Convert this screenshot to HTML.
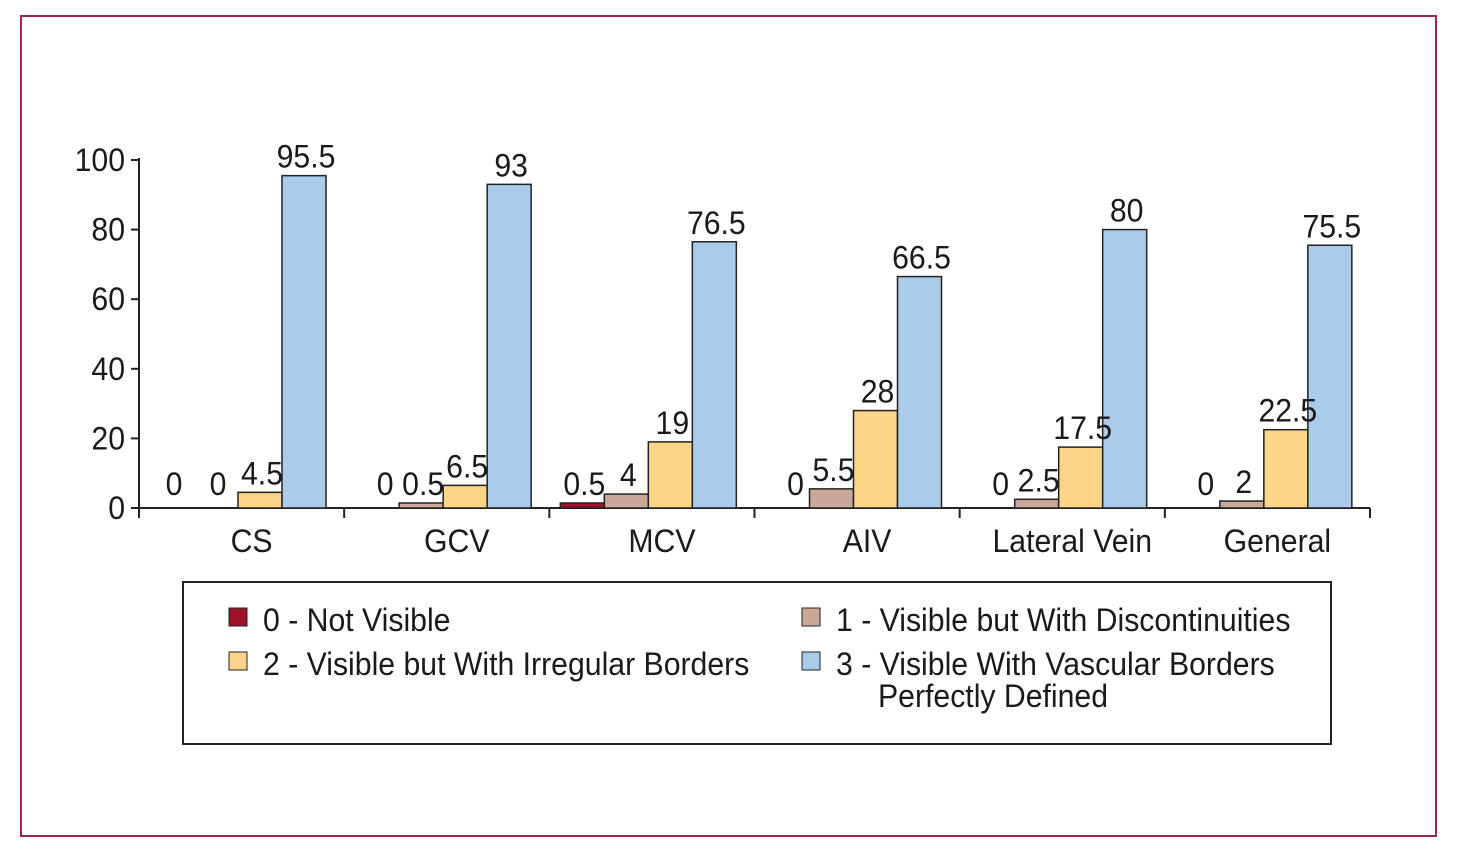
<!DOCTYPE html>
<html><head><meta charset="utf-8">
<style>
html,body{margin:0;padding:0;background:#fff;}
svg{display:block;}
text{font-family:"Liberation Sans Narrow","Liberation Sans",sans-serif;fill:#1a1a1a;}
</style></head>
<body>
<svg id="chart" width="1466" height="862" viewBox="0 0 1466 862">
<rect x="21" y="16" width="1415" height="820" fill="#fff" stroke="#a0254e" stroke-width="2"/>
<g id="plot"></g>
<g id="labels"></g>
<g id="legend">
<rect x="183" y="582" width="1148" height="162" fill="#fff" stroke="#222" stroke-width="2"/>
<g><rect x="229" y="608" width="18" height="18" fill="#a0102a" stroke="#222"/><text transform="translate(263,631) scale(0.975,1.05)" font-size="31">0 - Not Visible</text></g>
<g><rect x="802" y="608" width="18" height="18" fill="#c9a898" stroke="#222"/><text transform="translate(836,631) scale(0.975,1.05)" font-size="31">1 - Visible but With Discontinuities</text></g>
<g><rect x="229" y="652" width="18" height="18" fill="#fdd58a" stroke="#222"/><text transform="translate(263,675) scale(0.975,1.05)" font-size="31">2 - Visible but With Irregular Borders</text></g>
<g><rect x="802" y="652" width="18" height="18" fill="#aacbe9" stroke="#222"/><text transform="translate(836,675) scale(0.975,1.05)" font-size="31">3 - Visible With Vascular Borders</text><text transform="translate(878,707) scale(0.975,1.05)" font-size="31">Perfectly Defined</text></g>
</g>
</svg>
<script>
const categories = ["CS","GCV","MCV","AIV","Lateral Vein","General"];
const score0 = [0,0,0.5,0,0,0];
const score1 = [0,0.5,4,5.5,2.5,2];
const score2 = [4.5,6.5,19,28,17.5,22.5];
const score3 = [95.5,93,76.5,66.5,80,75.5];
const yTicks = [0,20,40,60,80,100];

const NS="http://www.w3.org/2000/svg";
const g=document.getElementById('plot');
const gl=document.getElementById('labels');
const x0=139,x1=1370,yBase=508,yTop=160,yMax=100;
const gw=(x1-x0)/categories.length, bw=44, off=11;
const y=v=>yBase-(v/yMax)*(yBase-yTop);
const colors=["#a0102a","#c9a898","#fdd58a","#aacbe9"];
const series=[score0,score1,score2,score3];
function mk(tag,attrs,txt,parent){const e=document.createElementNS(NS,tag);for(const k in attrs)e.setAttribute(k,attrs[k]);if(txt!==undefined)e.textContent=txt;(parent||g).appendChild(e);return e;}
function txt(x,yy,anchor,s,parent){return mk('text',{transform:'translate('+x+','+yy+') scale(0.975,1.05)','font-size':31,'text-anchor':anchor},s,parent);}
let ax=mk('line',{x1:x0,y1:yTop-2,x2:x0,y2:yBase,stroke:'#222','stroke-width':2});


let xa=mk('line',{x1:x0,y1:yBase,x2:x1,y2:yBase,stroke:'#222','stroke-width':2});


yTicks.forEach(t=>{
 mk('line',{x1:x0-8,y1:y(t),x2:x0,y2:y(t),stroke:'#222','stroke-width':2});
 const tl=txt(x0-14,y(t)+11,'end',String(t));
 
 
});
for(let i=0;i<=categories.length;i++){mk('line',{x1:x0+i*gw,y1:yBase,x2:x0+i*gw,y2:yBase+10,stroke:'#222','stroke-width':2});}
categories.forEach((c,i)=>{
 const cl=txt(x0+i*gw+gw/2+10,yBase+44,'middle',c);
 
 
 series.forEach((s,k)=>{
  const v=s[i];const bx=x0+i*gw+off+k*bw;
  if(v>0){const r=mk('rect',{x:bx,y:Math.min(y(v),yBase-5),width:bw,height:Math.max(yBase-y(v),5),fill:colors[k],stroke:'#222','stroke-width':1.5});
   
   }
  let lx=bx+bw/2+2;
  if(k===0 && v===0 && score1[i]!==0) lx=bx+bw-14;
  const lbl=txt(lx,Math.min(y(v),yBase-5)-8,'middle',String(v),gl);
  
  
 });
});
</script>
</body></html>
